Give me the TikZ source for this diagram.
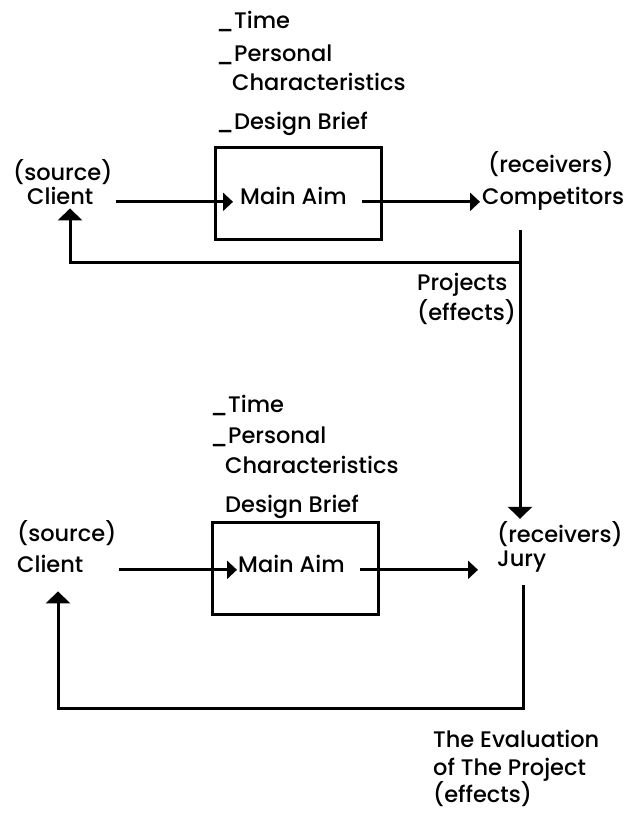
\documentclass[tikz,border=0pt]{standalone}
\usepackage{fontspec}
\usetikzlibrary{arrows.meta}
\newfontfamily\lblfont{Poppins}[UprightFont=* Medium]
\begin{document}
\begin{tikzpicture}[x=1pt,y=-1pt,
  lbl/.style={inner sep=0pt, anchor=base west, font=\lblfont\fontsize{22.5}{26}\selectfont},
  ln/.style={line width=3pt},
  harr/.style={ln, -{Triangle[length=10pt,width=18pt]}},
  varr/.style={ln, -{Triangle[length=12pt,width=24pt]}},
  aimbox/.style={draw, line width=3pt, inner sep=0pt, minimum width=166pt, minimum height=92pt}]
\useasboundingbox (0,0) rectangle (624,815);

% ---------- first stage: client to competitors ----------
\node[lbl] (t-time)  at (216,28)  {\_Time};
\node[lbl] (t-pers)  at (216,61)  {\_Personal};
\node[lbl] (t-char)  at (232,90)  {Characteristics};
\node[lbl] (t-brief) at (216,129) {\_Design Brief};
\node[aimbox] (box1) at (298,193) {};
\node[lbl] (t-aim)    at (240,204) {Main Aim};
\node[lbl] (t-src)    at (13,180)  {(source)};
\node[lbl] (t-client) at (27,204)  {Client};
\node[lbl] (t-recv)   at (488,172) {(receivers)};
\node[lbl] (t-comp)   at (482,204) {Competitors};
\node[lbl] (t-proj)   at (417,290) {Projects};
\node[lbl] (t-eff)    at (417,320) {(effects)};

% ---------- second stage: client to jury ----------
\node[lbl] (b-time)  at (210,412) {\_Time};
\node[lbl] (b-pers)  at (210,443) {\_Personal};
\node[lbl] (b-char)  at (225,473) {Characteristics};
\node[lbl] (b-brief) at (225,512) {Design Brief};
\node[aimbox] (box2) at (295,568) {};
\node[lbl] (b-aim)    at (238,572) {Main Aim};
\node[lbl] (b-src)    at (17,541)  {(source)};
\node[lbl] (b-client) at (17,572)  {Client};
\node[lbl] (b-recv)   at (497,542) {(receivers)};
\node[lbl] (b-jury)   at (497,566) {Jury};
\node[lbl] (b-ev1)    at (433,747) {The Evaluation};
\node[lbl] (b-ev2)    at (433,775) {of The Project};
\node[lbl] (b-ev3)    at (433,802) {(effects)};

% ---------- connectors ----------
\draw[harr] ([xshift=22pt]t-client.mid east) -- ([xshift=-7pt]t-aim.mid west);
\draw[harr] ([xshift=15pt]t-aim.mid east) -- ([xshift=-2pt]t-aim.mid -| t-comp.west);
\draw[harr] ([xshift=35pt]b-client.mid east) -- ([xshift=-1pt]b-aim.mid west);
\draw[harr] ([xshift=15pt]b-aim.mid east) -- ([xshift=-19pt]b-aim.mid -| b-jury.west);

% projects flow down to the jury and back to the first client
\coordinate (fb1) at (520,230);
\coordinate (fb1turn) at (70,262);
\draw[varr, shorten >=2pt] (fb1) -- (fb1 |- b-recv.north);
\draw[varr, shorten >=4pt] (fb1 |- fb1turn) -- (fb1turn) -- (fb1turn |- t-client.south);

% evaluation returns to the second client
\coordinate (fb2) at (523,585);
\coordinate (fb2turn) at (58,708);
\draw[varr, shorten >=19pt] (fb2) -- (fb2 |- fb2turn) -- (fb2turn) -- (fb2turn |- b-client.south);
\end{tikzpicture}
\end{document}
